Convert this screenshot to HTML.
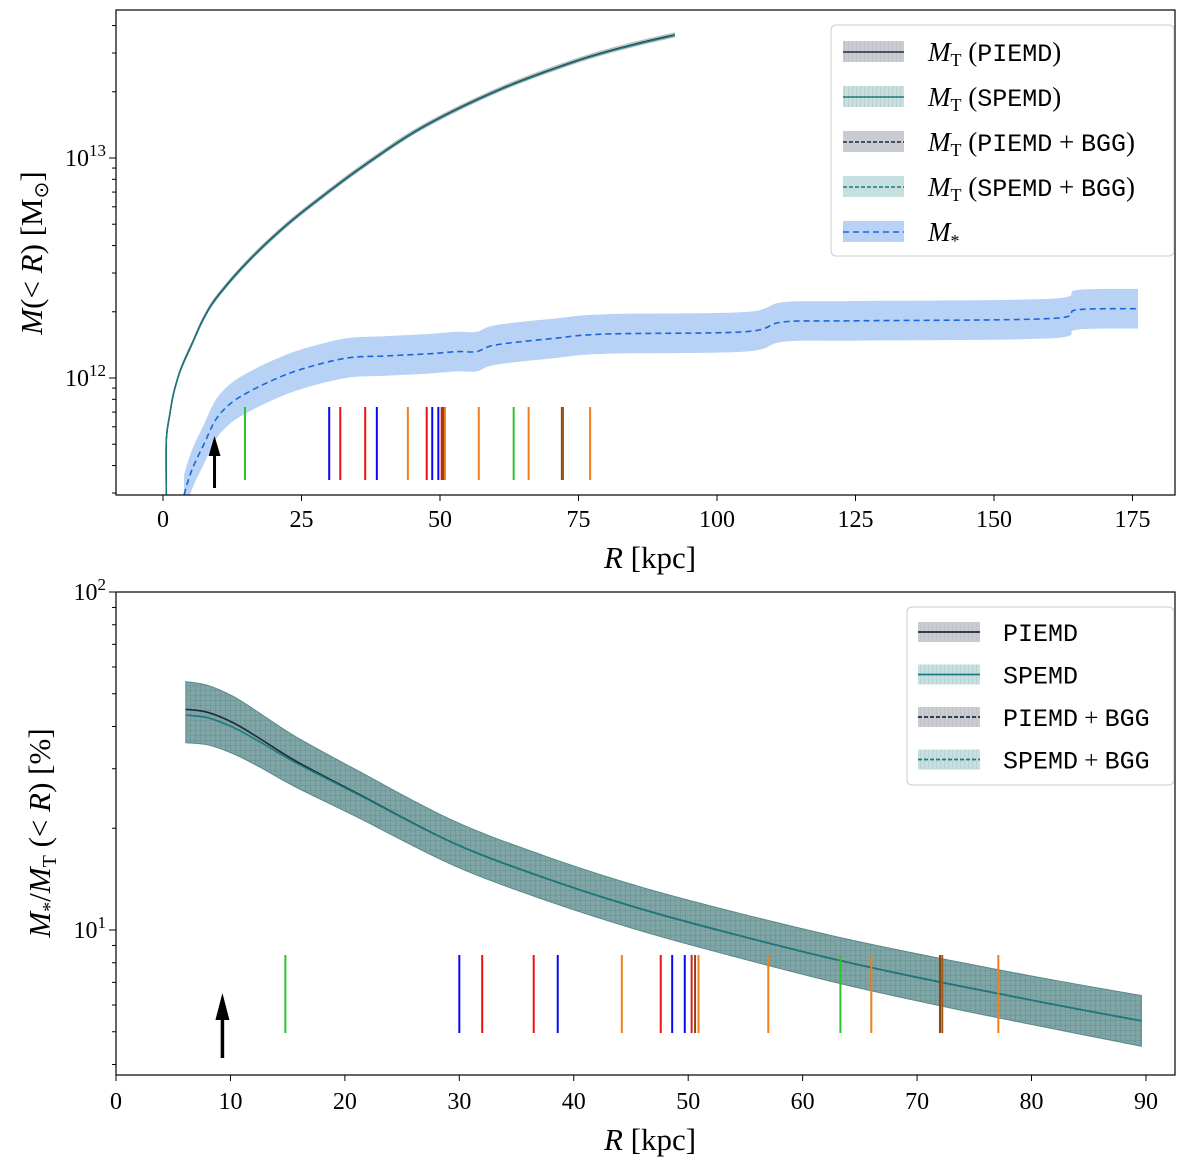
<!DOCTYPE html>
<html><head><meta charset="utf-8"><style>
body{margin:0;background:#fff}
svg{display:block;font-family:"Liberation Serif",serif}
</style></head><body>
<svg id="c" width="1200" height="1170">
<defs>
<pattern id="grid" width="5" height="5" patternUnits="userSpaceOnUse"><path d="M0 0H5M0 0V5" stroke="#3e6f70" stroke-width="0.6" fill="none"/></pattern>
<pattern id="vh" width="4" height="20" patternUnits="userSpaceOnUse"><path d="M0 0V20" stroke="#999" stroke-width="0.8"/></pattern>
</defs>
</svg>
<script>
// ---------- data ----------
const mtR=[0.6,0.6,1.2,1.9,3.2,5.3,7.5,10.1,15.7,22.5,29.5,36.5,46.8,60.6,74.4,84,92.4];
const mtLog=[11.47,11.72,11.83,11.93,12.04,12.16,12.28,12.38,12.54,12.70,12.84,12.97,13.14,13.31,13.44,13.51,13.56];
const msR=[3.8,4.5,5.5,7.4,9.5,12,15,19.8,25,33,40,48,53,56.6,60,70.5,80,105,112,125,160,165,176];
const msLog=[11.47,11.53,11.60,11.70,11.81,11.88,11.93,11.99,12.04,12.09,12.10,12.11,12.12,12.12,12.15,12.18,12.2,12.21,12.255,12.26,12.27,12.31,12.315];
const ratR=[6.1,8,10.2,12.4,15.7,21.2,29.5,37.8,46.1,54.3,63.2,72,80.8,89.6];
const ratLog=[1.636,1.628,1.60,1.56,1.495,1.40,1.257,1.15,1.06,0.985,0.91,0.846,0.787,0.731];
const ratPiemdOff=[0.017,0.016,0.014,0.01,0.005,0.002,0,0,0,0,0,0,0,0];
const ratErr=[0.082,0.08,0.078,0.075,0.072,0.068,0.066,0.065,0.065,0.066,0.068,0.07,0.072,0.075];
const galR=[14.8,30,32,36.5,38.6,44.2,47.6,48.6,49.7,50.3,50.6,50.9,57,63.3,66,72,72.2,77.1];
const galC=["#2bc42b","#0a0aee","#ee1111","#ee1111","#0a0aee","#f07f1a","#ee1111","#0a0aee","#0a0aee","#d62020","#8b4513","#f07f1a","#f07f1a","#2bc42b","#f07f1a","#8b4513","#a05a1a","#f07f1a"];
const xTicksTop=[0,25,50,75,100,125,150,175];
const xTicksBot=[0,10,20,30,40,50,60,70,80,90];
const arrowR=9.3;
// ---------- axes ----------
const svg=document.getElementById('c');
const NS='http://www.w3.org/2000/svg';
function el(t,a,p){const e=document.createElementNS(NS,t);for(const k in a)e.setAttribute(k,a[k]);(p||svg).appendChild(e);return e;}
const xT=r=>163+r*5.54, yT=l=>378-(l-12)*220;
const xB=r=>116+r*11.444, yB=l=>930-(l-1)*338;
function path(xs,ys){let d='M'+xs[0].toFixed(1)+' '+ys[0].toFixed(1);
for(let i=0;i<xs.length-1;i++){const p0=i?i-1:i,p3=i+2<xs.length?i+2:i+1;
const c1x=xs[i]+(xs[i+1]-xs[p0])/6,c1y=ys[i]+(ys[i+1]-ys[p0])/6,c2x=xs[i+1]-(xs[p3]-xs[i])/6,c2y=ys[i+1]-(ys[p3]-ys[i])/6;
d+=`C${c1x.toFixed(1)} ${c1y.toFixed(1)} ${c2x.toFixed(1)} ${c2y.toFixed(1)} ${xs[i+1].toFixed(1)} ${ys[i+1].toFixed(1)}`;}return d;}
function band(R,lo,hi,fx,fy){const a=path(R.map(fx),hi.map(fy));const rr=R.slice().reverse();const b=path(rr.map(fx),lo.slice().reverse().map(fy));return a+'L'+b.slice(1)+'Z';}
function clip(id,x,y,w,h){const c=el('clipPath',{id:id},svg.querySelector('defs'));el('rect',{x,y,width:w,height:h},c);}
clip('ct',116,10,1059,485);clip('cb',116,592,1059,483);

// ===== TOP PANEL =====
const gT=el('g',{'clip-path':'url(#ct)'});


let b=el('path',{d:band(msR,msLog.map(v=>v-0.09),msLog.map(v=>v+0.09),xT,yT),fill:'#b7d2f5'},gT);

let l=el('path',{d:path(msR.map(xT),msLog.map(yT)),fill:'none',stroke:'#1a66dd','stroke-width':1.6,'stroke-dasharray':'6,4'},gT);

let mb=el('path',{d:band(mtR,mtLog.map(v=>v-0.012),mtLog.map(v=>v+0.012),xT,yT),fill:'#8a9a9c',opacity:0.6},gT);

l=el('path',{d:path(mtR.map(xT),mtLog.map(yT)),fill:'none',stroke:'#1e2a3a','stroke-width':1.5},gT);

l=el('path',{d:path(mtR.map(xT),mtLog.map(v=>yT(v)+0.6)),fill:'none',stroke:'#1a7a7e','stroke-width':1.5},gT);

galR.forEach((r,i)=>{const e=el('line',{x1:xT(r),x2:xT(r),y1:407,y2:480,stroke:galC[i],'stroke-width':2},gT);
});
let ar=el('g',{},gT);
el('line',{x1:xT(arrowR),x2:xT(arrowR),y1:488,y2:450,stroke:'#000','stroke-width':3},ar);
el('path',{d:`M${xT(arrowR)-6} 456L${xT(arrowR)} 436L${xT(arrowR)+6} 456Z`,fill:'#000'},ar);
let fr=el('rect',{x:116,y:10,width:1059,height:485,fill:'none',stroke:'#000','stroke-width':1.2});

xTicksTop.forEach(t=>{el('line',{x1:xT(t),x2:xT(t),y1:495,y2:501,stroke:'#000'});
const tx=el('text',{x:xT(t),y:527,'font-size':24,'text-anchor':'middle'});tx.textContent=t;
});
for(let d=11;d<=13;d++)for(let m=1;m<=9;m++){const y=yT(d+Math.log10(m));if(y<10||y>495)continue;
el('line',{x1:116,x2:m==1?109:112,y1:y,y2:y,stroke:'#000'});}
[12,13].forEach(d=>{const t=el('text',{x:106,y:yT(d)+8,'font-size':24,'text-anchor':'end'});
t.innerHTML='10<tspan dy="-10" font-size="17">'+d+'</tspan>';});
let t=el('text',{x:650,y:568,'font-size':31,'text-anchor':'middle'});t.innerHTML='<tspan font-style="italic">R</tspan> [kpc]';

t=el('text',{x:0,y:0,'font-size':31,'text-anchor':'middle',transform:'translate(42,253) rotate(-90)'});
t.innerHTML='<tspan font-style="italic">M</tspan>(&lt; <tspan font-style="italic">R</tspan>) [M<tspan font-size="20" dy="6">⊙</tspan><tspan dy="-6">]</tspan>';

// legend top
let lg=el('g',{});
el('rect',{x:831,y:25,width:343,height:231,rx:5,fill:'#fff',stroke:'#ccc','stroke-width':1},lg);
const lt=[['#c9ccd2','#1e2a3a','','PIEMD'],['#c6e0e0','#1a7a7e','','SPEMD'],['#c9ccd2','#1e2a3a','4,2','PIEMD + BGG'],['#c6e0e0','#1a7a7e','4,2','SPEMD + BGG'],['#b7d2f5','#1a66dd','6,4','']];
lt.forEach((e,i)=>{const y=52+i*45;const g=el('g',{},lg);
el('rect',{x:843,y:y-11,width:61,height:21,fill:e[0]},g);if(i<2)el('rect',{x:843,y:y-11,width:61,height:21,fill:'url(#vh)',opacity:0.6},g);
el('line',{x1:843,x2:904,y1:y,y2:y,stroke:e[1],'stroke-width':1.6,'stroke-dasharray':e[2]},g);
const tx=el('text',{x:928,y:y+9,'font-size':27},g);
tx.innerHTML=i<4?'<tspan font-style="italic">M</tspan><tspan font-size="18" dy="5">T</tspan><tspan dy="-5"> (</tspan><tspan font-family="Liberation Mono,monospace" font-size="25">'+e[3].replace(' + ','</tspan><tspan> + </tspan><tspan font-family="Liberation Mono,monospace" font-size="25">')+'</tspan>)':'<tspan font-style="italic">M</tspan><tspan font-size="18" dy="6">*</tspan>';});

// ===== BOTTOM PANEL =====
const gB=el('g',{'clip-path':'url(#cb)'});

const lo=ratLog.map((v,i)=>v-ratErr[i]),hi=ratLog.map((v,i)=>v+ratErr[i]+ratPiemdOff[i]);
b=el('path',{d:band(ratR,lo,hi,xB,yB),fill:'#7fa5a6',stroke:'#5c8a8c','stroke-width':1},gB);

b=el('path',{d:band(ratR,lo,hi,xB,yB),fill:'url(#grid)',opacity:0.7},gB);

l=el('path',{d:path(ratR.map(xB),ratLog.map((v,i)=>yB(v+ratPiemdOff[i]))),fill:'none',stroke:'#1e2a3a','stroke-width':1.6},gB);

l=el('path',{d:path(ratR.map(xB),ratLog.map(yB)),fill:'none',stroke:'#1a7a7e','stroke-width':1.6},gB);

galR.forEach((r,i)=>{const e=el('line',{x1:xB(r),x2:xB(r),y1:955,y2:1033,stroke:galC[i],'stroke-width':2},gB);
});
ar=el('g',{},gB);
el('line',{x1:xB(arrowR),x2:xB(arrowR),y1:1058,y2:1015,stroke:'#000','stroke-width':3.5},ar);
el('path',{d:`M${xB(arrowR)-7} 1020L${xB(arrowR)} 993L${xB(arrowR)+7} 1020Z`,fill:'#000'},ar);
fr=el('rect',{x:116,y:592,width:1059,height:483,fill:'none',stroke:'#000','stroke-width':1.2});

xTicksBot.forEach(v=>{el('line',{x1:xB(v),x2:xB(v),y1:1075,y2:1081,stroke:'#000'});
const tx=el('text',{x:xB(v),y:1109,'font-size':24,'text-anchor':'middle'});tx.textContent=v;
});
for(let d=0;d<=2;d++)for(let m=1;m<=9;m++){const y=yB(d+Math.log10(m));if(y<591||y>1076)continue;
el('line',{x1:116,x2:m==1?109:112,y1:y,y2:y,stroke:'#000'});}
[1,2].forEach(d=>{const t=el('text',{x:106,y:yB(d)+8,'font-size':24,'text-anchor':'end'});
t.innerHTML='10<tspan dy="-10" font-size="17">'+d+'</tspan>';});
t=el('text',{x:650,y:1150,'font-size':31,'text-anchor':'middle'});t.innerHTML='<tspan font-style="italic">R</tspan> [kpc]';

t=el('text',{x:0,y:0,'font-size':31,'text-anchor':'middle',transform:'translate(50,833) rotate(-90)'});
t.innerHTML='<tspan font-style="italic">M</tspan><tspan font-size="20" dy="6">*</tspan><tspan dy="-6">/</tspan><tspan font-style="italic">M</tspan><tspan font-size="20" dy="6">T</tspan><tspan dy="-6"> (&lt; </tspan><tspan font-style="italic">R</tspan>) [%]';

lg=el('g',{});
el('rect',{x:907,y:607,width:267,height:178,rx:5,fill:'#fff',stroke:'#ccc','stroke-width':1},lg);
lt.slice(0,4).forEach((e,i)=>{const y=632+i*42.5;const g=el('g',{},lg);
el('rect',{x:918,y:y-10,width:62,height:20,fill:e[0]},g);el('rect',{x:918,y:y-10,width:62,height:20,fill:'url(#vh)',opacity:0.5},g);
el('line',{x1:918,x2:980,y1:y,y2:y,stroke:e[1],'stroke-width':1.8,'stroke-dasharray':e[2]},g);
const tx=el('text',{x:1003,y:y+9,'font-size':25,'font-family':'Liberation Mono,monospace'},g);
tx.innerHTML=e[3].replace(' + ','<tspan font-family="Liberation Serif,serif"> + </tspan>');});
</script>
</body></html>
